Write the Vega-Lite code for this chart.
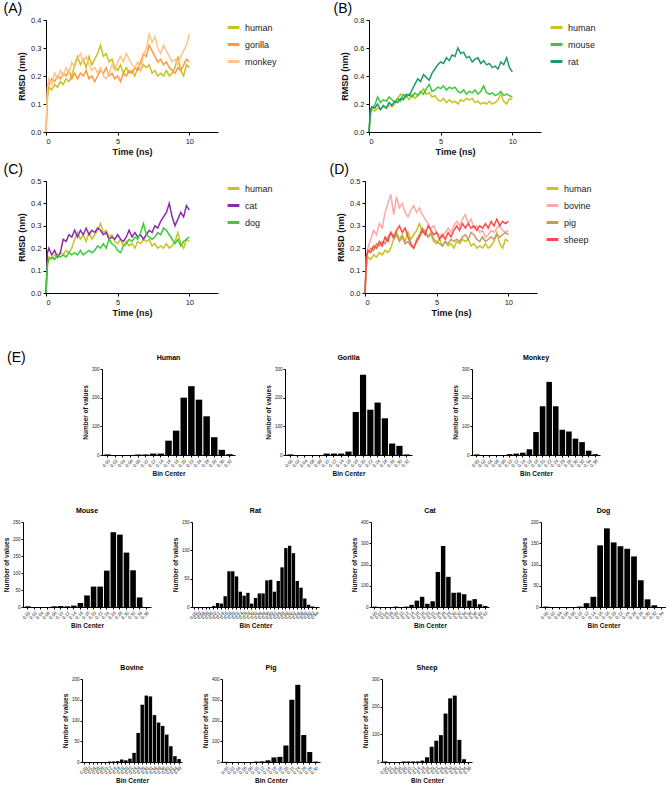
{
  "$schema": "https://vega.github.io/schema/vega-lite/v6.json",
  "padding": {"left": 2, "top": 2, "right": 0, "bottom": 0},
  "background": "white",
  "datasets": {
    "rmsd": [
      {"t":0,"human":0,"gorilla":0,"monkey":0,"mouse":0,"rat":0,"cat":0,"dog":0,"bovine":0,"pig":0,"sheep":0},
      {"t":0.1,"human":0.12,"gorilla":0.14,"monkey":0.16,"mouse":0.15,"rat":0.16,"cat":0.18,"dog":0.13,"bovine":0.16,"pig":0.15,"sheep":0.16},
      {"t":0.2,"human":0.16,"gorilla":0.17,"monkey":0.19,"mouse":0.17,"rat":0.18,"cat":0.20,"dog":0.15,"bovine":0.20,"pig":0.18,"sheep":0.19},
      {"t":0.4,"human":0.15,"gorilla":0.19,"monkey":0.17,"mouse":0.19,"rat":0.17,"cat":0.17,"dog":0.16,"bovine":0.24,"pig":0.20,"sheep":0.18},
      {"t":0.6,"human":0.17,"gorilla":0.18,"monkey":0.21,"mouse":0.25,"rat":0.20,"cat":0.19,"dog":0.15,"bovine":0.28,"pig":0.19,"sheep":0.21},
      {"t":0.8,"human":0.16,"gorilla":0.20,"monkey":0.19,"mouse":0.21,"rat":0.16,"cat":0.16,"dog":0.17,"bovine":0.26,"pig":0.22,"sheep":0.20},
      {"t":1.0,"human":0.18,"gorilla":0.19,"monkey":0.22,"mouse":0.23,"rat":0.19,"cat":0.18,"dog":0.16,"bovine":0.31,"pig":0.21,"sheep":0.23},
      {"t":1.2,"human":0.17,"gorilla":0.21,"monkey":0.20,"mouse":0.22,"rat":0.17,"cat":0.24,"dog":0.17,"bovine":0.29,"pig":0.23,"sheep":0.21},
      {"t":1.4,"human":0.19,"gorilla":0.20,"monkey":0.23,"mouse":0.25,"rat":0.21,"cat":0.23,"dog":0.16,"bovine":0.36,"pig":0.22,"sheep":0.25},
      {"t":1.6,"human":0.18,"gorilla":0.22,"monkey":0.21,"mouse":0.23,"rat":0.19,"cat":0.26,"dog":0.18,"bovine":0.40,"pig":0.25,"sheep":0.23},
      {"t":1.8,"human":0.20,"gorilla":0.19,"monkey":0.25,"mouse":0.21,"rat":0.22,"cat":0.25,"dog":0.17,"bovine":0.44,"pig":0.27,"sheep":0.27},
      {"t":2.0,"human":0.24,"gorilla":0.21,"monkey":0.23,"mouse":0.24,"rat":0.21,"cat":0.28,"dog":0.18,"bovine":0.35,"pig":0.24,"sheep":0.25},
      {"t":2.2,"human":0.27,"gorilla":0.19,"monkey":0.26,"mouse":0.22,"rat":0.24,"cat":0.25,"dog":0.17,"bovine":0.43,"pig":0.26,"sheep":0.28},
      {"t":2.4,"human":0.24,"gorilla":0.21,"monkey":0.28,"mouse":0.27,"rat":0.23,"cat":0.28,"dog":0.19,"bovine":0.38,"pig":0.23,"sheep":0.30},
      {"t":2.6,"human":0.26,"gorilla":0.20,"monkey":0.25,"mouse":0.25,"rat":0.27,"cat":0.26,"dog":0.17,"bovine":0.40,"pig":0.25,"sheep":0.27},
      {"t":2.8,"human":0.23,"gorilla":0.22,"monkey":0.27,"mouse":0.27,"rat":0.26,"cat":0.29,"dog":0.18,"bovine":0.36,"pig":0.22,"sheep":0.29},
      {"t":3.0,"human":0.27,"gorilla":0.19,"monkey":0.24,"mouse":0.25,"rat":0.30,"cat":0.26,"dog":0.19,"bovine":0.34,"pig":0.23,"sheep":0.25},
      {"t":3.2,"human":0.24,"gorilla":0.20,"monkey":0.22,"mouse":0.28,"rat":0.34,"cat":0.28,"dog":0.18,"bovine":0.37,"pig":0.21,"sheep":0.22},
      {"t":3.4,"human":0.26,"gorilla":0.18,"monkey":0.23,"mouse":0.26,"rat":0.38,"cat":0.27,"dog":0.19,"bovine":0.39,"pig":0.20,"sheep":0.20},
      {"t":3.6,"human":0.28,"gorilla":0.20,"monkey":0.21,"mouse":0.29,"rat":0.36,"cat":0.29,"dog":0.21,"bovine":0.36,"pig":0.24,"sheep":0.23},
      {"t":3.8,"human":0.31,"gorilla":0.22,"monkey":0.23,"mouse":0.27,"rat":0.41,"cat":0.28,"dog":0.20,"bovine":0.38,"pig":0.26,"sheep":0.25},
      {"t":4.0,"human":0.27,"gorilla":0.21,"monkey":0.20,"mouse":0.31,"rat":0.39,"cat":0.26,"dog":0.22,"bovine":0.35,"pig":0.29,"sheep":0.28},
      {"t":4.2,"human":0.28,"gorilla":0.23,"monkey":0.19,"mouse":0.34,"rat":0.37,"cat":0.27,"dog":0.20,"bovine":0.33,"pig":0.27,"sheep":0.26},
      {"t":4.4,"human":0.25,"gorilla":0.20,"monkey":0.21,"mouse":0.29,"rat":0.42,"cat":0.24,"dog":0.24,"bovine":0.31,"pig":0.25,"sheep":0.30},
      {"t":4.6,"human":0.26,"gorilla":0.21,"monkey":0.24,"mouse":0.30,"rat":0.45,"cat":0.25,"dog":0.22,"bovine":0.29,"pig":0.27,"sheep":0.28},
      {"t":4.8,"human":0.23,"gorilla":0.19,"monkey":0.22,"mouse":0.32,"rat":0.48,"cat":0.24,"dog":0.21,"bovine":0.30,"pig":0.24,"sheep":0.26},
      {"t":5.0,"human":0.22,"gorilla":0.20,"monkey":0.25,"mouse":0.31,"rat":0.50,"cat":0.26,"dog":0.19,"bovine":0.27,"pig":0.23,"sheep":0.27},
      {"t":5.2,"human":0.24,"gorilla":0.18,"monkey":0.27,"mouse":0.33,"rat":0.49,"cat":0.24,"dog":0.18,"bovine":0.26,"pig":0.22,"sheep":0.24},
      {"t":5.4,"human":0.21,"gorilla":0.21,"monkey":0.25,"mouse":0.30,"rat":0.53,"cat":0.23,"dog":0.21,"bovine":0.25,"pig":0.21,"sheep":0.26},
      {"t":5.6,"human":0.23,"gorilla":0.20,"monkey":0.28,"mouse":0.32,"rat":0.51,"cat":0.25,"dog":0.22,"bovine":0.27,"pig":0.23,"sheep":0.24},
      {"t":5.8,"human":0.21,"gorilla":0.22,"monkey":0.26,"mouse":0.31,"rat":0.55,"cat":0.28,"dog":0.24,"bovine":0.29,"pig":0.22,"sheep":0.27},
      {"t":6.0,"human":0.22,"gorilla":0.21,"monkey":0.24,"mouse":0.32,"rat":0.54,"cat":0.25,"dog":0.23,"bovine":0.27,"pig":0.24,"sheep":0.25},
      {"t":6.2,"human":0.20,"gorilla":0.23,"monkey":0.23,"mouse":0.29,"rat":0.60,"cat":0.27,"dog":0.25,"bovine":0.30,"pig":0.23,"sheep":0.28},
      {"t":6.4,"human":0.23,"gorilla":0.22,"monkey":0.25,"mouse":0.28,"rat":0.56,"cat":0.25,"dog":0.24,"bovine":0.32,"pig":0.24,"sheep":0.30},
      {"t":6.6,"human":0.22,"gorilla":0.25,"monkey":0.22,"mouse":0.30,"rat":0.57,"cat":0.26,"dog":0.27,"bovine":0.30,"pig":0.23,"sheep":0.28},
      {"t":6.8,"human":0.24,"gorilla":0.28,"monkey":0.27,"mouse":0.27,"rat":0.53,"cat":0.24,"dog":0.31,"bovine":0.33,"pig":0.25,"sheep":0.31},
      {"t":7.0,"human":0.23,"gorilla":0.27,"monkey":0.30,"mouse":0.29,"rat":0.54,"cat":0.26,"dog":0.26,"bovine":0.35,"pig":0.26,"sheep":0.29},
      {"t":7.2,"human":0.24,"gorilla":0.31,"monkey":0.35,"mouse":0.28,"rat":0.50,"cat":0.28,"dog":0.25,"bovine":0.31,"pig":0.24,"sheep":0.31},
      {"t":7.4,"human":0.21,"gorilla":0.29,"monkey":0.32,"mouse":0.30,"rat":0.52,"cat":0.27,"dog":0.24,"bovine":0.33,"pig":0.27,"sheep":0.29},
      {"t":7.6,"human":0.22,"gorilla":0.27,"monkey":0.34,"mouse":0.27,"rat":0.53,"cat":0.30,"dog":0.25,"bovine":0.29,"pig":0.26,"sheep":0.30},
      {"t":7.8,"human":0.20,"gorilla":0.25,"monkey":0.30,"mouse":0.29,"rat":0.49,"cat":0.29,"dog":0.27,"bovine":0.30,"pig":0.24,"sheep":0.28},
      {"t":8.0,"human":0.21,"gorilla":0.26,"monkey":0.28,"mouse":0.33,"rat":0.51,"cat":0.32,"dog":0.26,"bovine":0.27,"pig":0.23,"sheep":0.30},
      {"t":8.2,"human":0.20,"gorilla":0.24,"monkey":0.31,"mouse":0.28,"rat":0.48,"cat":0.34,"dog":0.29,"bovine":0.28,"pig":0.25,"sheep":0.29},
      {"t":8.4,"human":0.22,"gorilla":0.25,"monkey":0.29,"mouse":0.27,"rat":0.49,"cat":0.36,"dog":0.28,"bovine":0.25,"pig":0.23,"sheep":0.31},
      {"t":8.6,"human":0.20,"gorilla":0.23,"monkey":0.27,"mouse":0.28,"rat":0.46,"cat":0.40,"dog":0.26,"bovine":0.26,"pig":0.24,"sheep":0.29},
      {"t":8.8,"human":0.21,"gorilla":0.22,"monkey":0.25,"mouse":0.26,"rat":0.47,"cat":0.34,"dog":0.24,"bovine":0.28,"pig":0.25,"sheep":0.32},
      {"t":9.0,"human":0.23,"gorilla":0.21,"monkey":0.26,"mouse":0.27,"rat":0.45,"cat":0.30,"dog":0.22,"bovine":0.27,"pig":0.24,"sheep":0.30},
      {"t":9.2,"human":0.27,"gorilla":0.23,"monkey":0.24,"mouse":0.29,"rat":0.50,"cat":0.33,"dog":0.24,"bovine":0.29,"pig":0.26,"sheep":0.33},
      {"t":9.4,"human":0.22,"gorilla":0.22,"monkey":0.27,"mouse":0.26,"rat":0.48,"cat":0.36,"dog":0.21,"bovine":0.30,"pig":0.25,"sheep":0.30},
      {"t":9.6,"human":0.20,"gorilla":0.24,"monkey":0.29,"mouse":0.27,"rat":0.53,"cat":0.34,"dog":0.23,"bovine":0.28,"pig":0.26,"sheep":0.32},
      {"t":9.8,"human":0.24,"gorilla":0.26,"monkey":0.31,"mouse":0.26,"rat":0.46,"cat":0.39,"dog":0.24,"bovine":0.27,"pig":0.27,"sheep":0.31},
      {"t":10.0,"human":0.23,"gorilla":0.25,"monkey":0.35,"mouse":0.25,"rat":0.43,"cat":0.37,"dog":0.25,"bovine":0.28,"pig":0.26,"sheep":0.32}
    ],
    "hist": [
      {"s":"Human","b":"0.00","n":2},{"s":"Human","b":"0.02","n":0},{"s":"Human","b":"0.04","n":0},{"s":"Human","b":"0.06","n":0},{"s":"Human","b":"0.08","n":2},{"s":"Human","b":"0.10","n":2},{"s":"Human","b":"0.12","n":5},{"s":"Human","b":"0.14","n":5},{"s":"Human","b":"0.16","n":50},{"s":"Human","b":"0.18","n":85},{"s":"Human","b":"0.20","n":200},{"s":"Human","b":"0.22","n":240},{"s":"Human","b":"0.24","n":193},{"s":"Human","b":"0.26","n":135},{"s":"Human","b":"0.28","n":62},{"s":"Human","b":"0.30","n":18},{"s":"Human","b":"0.32","n":3},
      {"s":"Gorilla","b":"0.00","n":2},{"s":"Gorilla","b":"0.02","n":0},{"s":"Gorilla","b":"0.04","n":0},{"s":"Gorilla","b":"0.06","n":0},{"s":"Gorilla","b":"0.08","n":0},{"s":"Gorilla","b":"0.10","n":5},{"s":"Gorilla","b":"0.12","n":5},{"s":"Gorilla","b":"0.14","n":5},{"s":"Gorilla","b":"0.16","n":12},{"s":"Gorilla","b":"0.18","n":150},{"s":"Gorilla","b":"0.20","n":280},{"s":"Gorilla","b":"0.22","n":158},{"s":"Gorilla","b":"0.24","n":183},{"s":"Gorilla","b":"0.26","n":128},{"s":"Gorilla","b":"0.28","n":40},{"s":"Gorilla","b":"0.30","n":32},{"s":"Gorilla","b":"0.32","n":2},
      {"s":"Monkey","b":"0.00","n":2},{"s":"Monkey","b":"0.02","n":0},{"s":"Monkey","b":"0.04","n":0},{"s":"Monkey","b":"0.06","n":0},{"s":"Monkey","b":"0.08","n":0},{"s":"Monkey","b":"0.10","n":3},{"s":"Monkey","b":"0.12","n":5},{"s":"Monkey","b":"0.14","n":8},{"s":"Monkey","b":"0.16","n":20},{"s":"Monkey","b":"0.18","n":80},{"s":"Monkey","b":"0.20","n":170},{"s":"Monkey","b":"0.22","n":255},{"s":"Monkey","b":"0.24","n":170},{"s":"Monkey","b":"0.26","n":88},{"s":"Monkey","b":"0.28","n":82},{"s":"Monkey","b":"0.30","n":57},{"s":"Monkey","b":"0.32","n":45},{"s":"Monkey","b":"0.34","n":15},{"s":"Monkey","b":"0.36","n":3},
      {"s":"Mouse","b":"0.00","n":2},{"s":"Mouse","b":"0.02","n":0},{"s":"Mouse","b":"0.04","n":0},{"s":"Mouse","b":"0.06","n":0},{"s":"Mouse","b":"0.08","n":2},{"s":"Mouse","b":"0.10","n":3},{"s":"Mouse","b":"0.12","n":2},{"s":"Mouse","b":"0.14","n":4},{"s":"Mouse","b":"0.16","n":12},{"s":"Mouse","b":"0.18","n":34},{"s":"Mouse","b":"0.20","n":60},{"s":"Mouse","b":"0.22","n":60},{"s":"Mouse","b":"0.24","n":107},{"s":"Mouse","b":"0.26","n":220},{"s":"Mouse","b":"0.28","n":213},{"s":"Mouse","b":"0.30","n":160},{"s":"Mouse","b":"0.32","n":108},{"s":"Mouse","b":"0.34","n":28},{"s":"Mouse","b":"0.36","n":0},
      {"s":"Rat","b":"0.00","n":0},{"s":"Rat","b":"0.02","n":0},{"s":"Rat","b":"0.04","n":0},{"s":"Rat","b":"0.06","n":0},{"s":"Rat","b":"0.08","n":0},{"s":"Rat","b":"0.10","n":2},{"s":"Rat","b":"0.12","n":7},{"s":"Rat","b":"0.14","n":6},{"s":"Rat","b":"0.16","n":19},{"s":"Rat","b":"0.18","n":63},{"s":"Rat","b":"0.20","n":63},{"s":"Rat","b":"0.22","n":54},{"s":"Rat","b":"0.24","n":27},{"s":"Rat","b":"0.26","n":20},{"s":"Rat","b":"0.28","n":25},{"s":"Rat","b":"0.30","n":6},{"s":"Rat","b":"0.32","n":16},{"s":"Rat","b":"0.34","n":24},{"s":"Rat","b":"0.36","n":24},{"s":"Rat","b":"0.38","n":47},{"s":"Rat","b":"0.40","n":48},{"s":"Rat","b":"0.42","n":27},{"s":"Rat","b":"0.44","n":46},{"s":"Rat","b":"0.46","n":70},{"s":"Rat","b":"0.48","n":104},{"s":"Rat","b":"0.50","n":108},{"s":"Rat","b":"0.52","n":95},{"s":"Rat","b":"0.54","n":46},{"s":"Rat","b":"0.56","n":34},{"s":"Rat","b":"0.58","n":15},{"s":"Rat","b":"0.60","n":4},{"s":"Rat","b":"0.62","n":1},{"s":"Rat","b":"0.64","n":0},
      {"s":"Cat","b":"0.00","n":2},{"s":"Cat","b":"0.02","n":0},{"s":"Cat","b":"0.04","n":0},{"s":"Cat","b":"0.06","n":0},{"s":"Cat","b":"0.08","n":2},{"s":"Cat","b":"0.10","n":0},{"s":"Cat","b":"0.12","n":2},{"s":"Cat","b":"0.14","n":10},{"s":"Cat","b":"0.16","n":30},{"s":"Cat","b":"0.18","n":48},{"s":"Cat","b":"0.20","n":15},{"s":"Cat","b":"0.22","n":27},{"s":"Cat","b":"0.24","n":165},{"s":"Cat","b":"0.26","n":287},{"s":"Cat","b":"0.28","n":142},{"s":"Cat","b":"0.30","n":67},{"s":"Cat","b":"0.32","n":68},{"s":"Cat","b":"0.34","n":60},{"s":"Cat","b":"0.36","n":30},{"s":"Cat","b":"0.38","n":37},{"s":"Cat","b":"0.40","n":13},{"s":"Cat","b":"0.42","n":5},
      {"s":"Dog","b":"0.00","n":1},{"s":"Dog","b":"0.02","n":0},{"s":"Dog","b":"0.04","n":0},{"s":"Dog","b":"0.06","n":0},{"s":"Dog","b":"0.08","n":0},{"s":"Dog","b":"0.10","n":1},{"s":"Dog","b":"0.12","n":9},{"s":"Dog","b":"0.14","n":24},{"s":"Dog","b":"0.16","n":145},{"s":"Dog","b":"0.18","n":185},{"s":"Dog","b":"0.20","n":152},{"s":"Dog","b":"0.22","n":143},{"s":"Dog","b":"0.24","n":137},{"s":"Dog","b":"0.26","n":119},{"s":"Dog","b":"0.28","n":63},{"s":"Dog","b":"0.30","n":18},{"s":"Dog","b":"0.32","n":4},{"s":"Dog","b":"0.34","n":0},
      {"s":"Bovine","b":"0.00","n":0},{"s":"Bovine","b":"0.02","n":0},{"s":"Bovine","b":"0.04","n":0},{"s":"Bovine","b":"0.06","n":0},{"s":"Bovine","b":"0.08","n":0},{"s":"Bovine","b":"0.10","n":0},{"s":"Bovine","b":"0.12","n":1},{"s":"Bovine","b":"0.14","n":1},{"s":"Bovine","b":"0.16","n":2},{"s":"Bovine","b":"0.18","n":6},{"s":"Bovine","b":"0.20","n":4},{"s":"Bovine","b":"0.22","n":8},{"s":"Bovine","b":"0.24","n":22},{"s":"Bovine","b":"0.26","n":70},{"s":"Bovine","b":"0.28","n":138},{"s":"Bovine","b":"0.30","n":160},{"s":"Bovine","b":"0.32","n":158},{"s":"Bovine","b":"0.34","n":113},{"s":"Bovine","b":"0.36","n":95},{"s":"Bovine","b":"0.38","n":87},{"s":"Bovine","b":"0.40","n":66},{"s":"Bovine","b":"0.42","n":38},{"s":"Bovine","b":"0.44","n":14},{"s":"Bovine","b":"0.46","n":7},
      {"s":"Pig","b":"0.00","n":1},{"s":"Pig","b":"0.02","n":0},{"s":"Pig","b":"0.04","n":0},{"s":"Pig","b":"0.06","n":0},{"s":"Pig","b":"0.08","n":0},{"s":"Pig","b":"0.10","n":2},{"s":"Pig","b":"0.12","n":3},{"s":"Pig","b":"0.14","n":8},{"s":"Pig","b":"0.16","n":22},{"s":"Pig","b":"0.18","n":25},{"s":"Pig","b":"0.20","n":80},{"s":"Pig","b":"0.22","n":300},{"s":"Pig","b":"0.24","n":372},{"s":"Pig","b":"0.26","n":130},{"s":"Pig","b":"0.28","n":48},{"s":"Pig","b":"0.30","n":2},
      {"s":"Sheep","b":"0.00","n":2},{"s":"Sheep","b":"0.02","n":0},{"s":"Sheep","b":"0.04","n":0},{"s":"Sheep","b":"0.06","n":0},{"s":"Sheep","b":"0.08","n":2},{"s":"Sheep","b":"0.10","n":2},{"s":"Sheep","b":"0.12","n":2},{"s":"Sheep","b":"0.14","n":2},{"s":"Sheep","b":"0.16","n":5},{"s":"Sheep","b":"0.18","n":17},{"s":"Sheep","b":"0.20","n":55},{"s":"Sheep","b":"0.22","n":77},{"s":"Sheep","b":"0.24","n":97},{"s":"Sheep","b":"0.26","n":175},{"s":"Sheep","b":"0.28","n":230},{"s":"Sheep","b":"0.30","n":240},{"s":"Sheep","b":"0.32","n":80},{"s":"Sheep","b":"0.34","n":10},{"s":"Sheep","b":"0.36","n":0}
    ]
  },
  "vconcat": [
    {
      "vconcat": [
        {
          "hconcat": [
            {"width": 1, "height": 1, "data": {"values": []}, "mark": "rect", "view": {"fill": "transparent", "stroke": null}},
            {
              "hconcat": [
                {
                  "title": {"text": "(A)", "anchor": "start", "frame": "bounds", "fontSize": 14, "fontWeight": "normal", "dx": -14, "offset": 0},
                  "width": 172, "height": 112,
                  "data": {"name": "rmsd"},
                  "transform": [{"fold": ["human", "gorilla", "monkey"], "as": ["species", "rmsd"]}],
                  "mark": {"type": "line", "strokeWidth": 1.5},
                  "encoding": {
                    "x": {"field": "t", "type": "quantitative", "scale": {"domain": [0, 12], "nice": false}, "axis": {"values": [0, 5, 10], "title": "Time (ns)", "labelFontSize": 7.5, "titleFontSize": 9, "tickSize": 3, "labelPadding": 2, "titlePadding": 3}},
                    "y": {"field": "rmsd", "type": "quantitative", "scale": {"domain": [0, 0.4], "nice": false}, "axis": {"values": [0, 0.1, 0.2, 0.3, 0.4], "format": ".1f", "title": "RMSD (nm)", "labelFontSize": 7.5, "titleFontSize": 9, "tickSize": 3, "labelPadding": 2, "titlePadding": 4}},
                    "color": {"field": "species", "type": "nominal", "scale": {"domain": ["human", "gorilla", "monkey"], "range": ["#c8c31e", "#ff9a3c", "#ffc48a"]}}
                  }
                },
                {
                  "title": {"text": "(B)", "anchor": "start", "frame": "bounds", "fontSize": 14, "fontWeight": "normal", "dx": -7, "offset": 0},
                  "width": 172, "height": 112,
                  "data": {"name": "rmsd"},
                  "transform": [{"fold": ["human", "mouse", "rat"], "as": ["species", "rmsd"]}],
                  "mark": {"type": "line", "strokeWidth": 1.5},
                  "encoding": {
                    "x": {"field": "t", "type": "quantitative", "scale": {"domain": [0, 12], "nice": false}, "axis": {"values": [0, 5, 10], "title": "Time (ns)", "labelFontSize": 7.5, "titleFontSize": 9, "tickSize": 3, "labelPadding": 2, "titlePadding": 3}},
                    "y": {"field": "rmsd", "type": "quantitative", "scale": {"domain": [0, 0.8], "nice": false}, "axis": {"values": [0, 0.2, 0.4, 0.6, 0.8], "format": ".1f", "title": "RMSD (nm)", "labelFontSize": 7.5, "titleFontSize": 9, "tickSize": 3, "labelPadding": 2, "titlePadding": 4}},
                    "color": {"field": "species", "type": "nominal", "scale": {"domain": ["human", "mouse", "rat"], "range": ["#c8c31e", "#3cc83c", "#1e9870"]}}
                  }
                }
              ],
              "spacing": 56,
              "resolve": {"scale": {"color": "independent"}, "legend": {"color": "independent"}}
            }
          ],
          "spacing": 0,
          "resolve": {"scale": {"color": "independent"}, "legend": {"color": "independent"}}
        },
        {
          "hconcat": [
            {"width": 1, "height": 1, "data": {"values": []}, "mark": "rect", "view": {"fill": "transparent", "stroke": null}},
            {
              "hconcat": [
                {
                  "title": {"text": "(C)", "anchor": "start", "frame": "bounds", "fontSize": 14, "fontWeight": "normal", "dx": -14, "offset": 0},
                  "width": 172, "height": 112,
                  "data": {"name": "rmsd"},
                  "transform": [{"fold": ["human", "cat", "dog"], "as": ["species", "rmsd"]}],
                  "mark": {"type": "line", "strokeWidth": 1.5},
                  "encoding": {
                    "x": {"field": "t", "type": "quantitative", "scale": {"domain": [0, 12], "nice": false}, "axis": {"values": [0, 5, 10], "title": "Time (ns)", "labelFontSize": 7.5, "titleFontSize": 9, "tickSize": 3, "labelPadding": 2, "titlePadding": 3}},
                    "y": {"field": "rmsd", "type": "quantitative", "scale": {"domain": [0, 0.5], "nice": false}, "axis": {"values": [0, 0.1, 0.2, 0.3, 0.4, 0.5], "format": ".1f", "title": "RMSD (nm)", "labelFontSize": 7.5, "titleFontSize": 9, "tickSize": 3, "labelPadding": 2, "titlePadding": 4}},
                    "color": {"field": "species", "type": "nominal", "scale": {"domain": ["human", "cat", "dog"], "range": ["#c8c31e", "#8b2ca8", "#3ccc3c"]}}
                  }
                },
                {
                  "title": {"text": "(D)", "anchor": "start", "frame": "bounds", "fontSize": 14, "fontWeight": "normal", "dx": -7, "offset": 0},
                  "width": 172, "height": 112,
                  "data": {"name": "rmsd"},
                  "transform": [{"fold": ["human", "bovine", "pig", "sheep"], "as": ["species", "rmsd"]}],
                  "mark": {"type": "line", "strokeWidth": 1.5},
                  "encoding": {
                    "x": {"field": "t", "type": "quantitative", "scale": {"domain": [0, 12], "nice": false}, "axis": {"values": [0, 5, 10], "title": "Time (ns)", "labelFontSize": 7.5, "titleFontSize": 9, "tickSize": 3, "labelPadding": 2, "titlePadding": 3}},
                    "y": {"field": "rmsd", "type": "quantitative", "scale": {"domain": [0, 0.5], "nice": false}, "axis": {"values": [0, 0.1, 0.2, 0.3, 0.4, 0.5], "format": ".1f", "title": "RMSD (nm)", "labelFontSize": 7.5, "titleFontSize": 9, "tickSize": 3, "labelPadding": 2, "titlePadding": 4}},
                    "color": {"field": "species", "type": "nominal", "scale": {"domain": ["human", "bovine", "pig", "sheep"], "range": ["#c8c31e", "#ffa8a8", "#c89a62", "#ff4848"]}}
                  }
                }
              ],
              "spacing": 56,
              "resolve": {"scale": {"color": "independent"}, "legend": {"color": "independent"}}
            }
          ],
          "spacing": 0,
          "resolve": {"scale": {"color": "independent"}, "legend": {"color": "independent"}}
        }
      ],
      "spacing": 6,
      "resolve": {"scale": {"color": "independent"}, "legend": {"color": "independent"}}
    },
    {
      "vconcat": [
        {
          "hconcat": [
            {"title": {"text": "(E)", "anchor": "start", "frame": "bounds", "fontSize": 14, "fontWeight": "normal", "offset": 4, "dx": 5}, "width": 80, "height": 1, "data": {"values": []}, "mark": "rect", "view": {"fill": "transparent", "stroke": null}},
            {
              "hconcat": [
                {"title": "Human", "width": 133, "height": 86, "data": {"name": "hist"}, "transform": [{"filter": "datum.s === 'Human'"}], "mark": {"type": "bar", "color": "#000"},
                 "encoding": {"x": {"field": "b", "type": "ordinal", "title": "Bin Center", "scale": {"paddingInner": 0.15, "paddingOuter": 0.3}, "axis": {"labelAngle": -45, "bandPosition": 0.5}},
                              "y": {"field": "n", "type": "quantitative", "title": "Number of values", "scale": {"domain": [0, 300], "nice": false}, "axis": {"values": [0, 100, 200, 300]}}}},
                {
                  "hconcat": [
                    {"title": "Gorilla", "width": 127, "height": 86, "data": {"name": "hist"}, "transform": [{"filter": "datum.s === 'Gorilla'"}], "mark": {"type": "bar", "color": "#000"},
                     "encoding": {"x": {"field": "b", "type": "ordinal", "title": "Bin Center", "scale": {"paddingInner": 0.15, "paddingOuter": 0.3}, "axis": {"labelAngle": -45, "bandPosition": 0.5}},
                                  "y": {"field": "n", "type": "quantitative", "title": "Number of values", "scale": {"domain": [0, 300], "nice": false}, "axis": {"values": [0, 100, 200, 300]}}}},
                    {"title": "Monkey", "width": 128, "height": 86, "data": {"name": "hist"}, "transform": [{"filter": "datum.s === 'Monkey'"}], "mark": {"type": "bar", "color": "#000"},
                     "encoding": {"x": {"field": "b", "type": "ordinal", "title": "Bin Center", "scale": {"paddingInner": 0.15, "paddingOuter": 0.3}, "axis": {"labelAngle": -45, "bandPosition": 0.5}},
                                  "y": {"field": "n", "type": "quantitative", "title": "Number of values", "scale": {"domain": [0, 300], "nice": false}, "axis": {"values": [0, 100, 200, 300]}}}}
                  ],
                  "spacing": 40
                }
              ],
              "spacing": 30
            }
          ],
          "spacing": 0
        },
        {
          "vconcat": [
            {
              "hconcat": [
                {"width": 1, "height": 1, "data": {"values": []}, "mark": "rect", "view": {"fill": "transparent", "stroke": null}},
                {
                  "hconcat": [
                    {
                      "hconcat": [
                        {"title": "Mouse", "width": 128, "height": 85, "data": {"name": "hist"}, "transform": [{"filter": "datum.s === 'Mouse'"}], "mark": {"type": "bar", "color": "#000"},
                         "encoding": {"x": {"field": "b", "type": "ordinal", "title": "Bin Center", "scale": {"paddingInner": 0.15, "paddingOuter": 0.3}, "axis": {"labelAngle": -45, "bandPosition": 0.5}},
                                      "y": {"field": "n", "type": "quantitative", "title": "Number of values", "scale": {"domain": [0, 250], "nice": false}, "axis": {"values": [0, 50, 100, 150, 200, 250]}}}},
                        {"title": "Rat", "width": 127, "height": 85, "data": {"name": "hist"}, "transform": [{"filter": "datum.s === 'Rat'"}], "mark": {"type": "bar", "color": "#000"},
                         "encoding": {"x": {"field": "b", "type": "ordinal", "title": "Bin Center", "scale": {"paddingInner": 0.12, "paddingOuter": 0.3}, "axis": {"labelAngle": -45, "bandPosition": 0.5}},
                                      "y": {"field": "n", "type": "quantitative", "title": "Number of values", "scale": {"domain": [0, 150], "nice": false}, "axis": {"values": [0, 50, 100, 150]}}}}
                      ],
                      "spacing": 21
                    },
                    {"title": "Cat", "width": 118, "height": 85, "data": {"name": "hist"}, "transform": [{"filter": "datum.s === 'Cat'"}], "mark": {"type": "bar", "color": "#000"},
                     "encoding": {"x": {"field": "b", "type": "ordinal", "title": "Bin Center", "scale": {"paddingInner": 0.15, "paddingOuter": 0.3}, "axis": {"labelAngle": -45, "bandPosition": 0.5}},
                                  "y": {"field": "n", "type": "quantitative", "title": "Number of values", "scale": {"domain": [0, 400], "nice": false}, "axis": {"values": [0, 100, 200, 300, 400]}}}},
                    {"title": "Dog", "width": 125, "height": 85, "data": {"name": "hist"}, "transform": [{"filter": "datum.s === 'Dog'"}], "mark": {"type": "bar", "color": "#000"},
                     "encoding": {"x": {"field": "b", "type": "ordinal", "title": "Bin Center", "scale": {"paddingInner": 0.15, "paddingOuter": 0.3}, "axis": {"labelAngle": -45, "bandPosition": 0.5}},
                                  "y": {"field": "n", "type": "quantitative", "title": "Number of values", "scale": {"domain": [0, 200], "nice": false}, "axis": {"values": [0, 50, 100, 150, 200]}}}}
                  ],
                  "spacing": 32
                }
              ],
              "spacing": 0
            },
            {
              "hconcat": [
                {"width": 60, "height": 1, "data": {"values": []}, "mark": "rect", "view": {"fill": "transparent", "stroke": null}},
                {
                  "hconcat": [
                    {
                      "hconcat": [
                        {"title": "Bovine", "width": 100, "height": 83, "data": {"name": "hist"}, "transform": [{"filter": "datum.s === 'Bovine'"}], "mark": {"type": "bar", "color": "#000"},
                         "encoding": {"x": {"field": "b", "type": "ordinal", "title": "Bin Center", "scale": {"paddingInner": 0.15, "paddingOuter": 0.3}, "axis": {"labelAngle": -45, "bandPosition": 0.5}},
                                      "y": {"field": "n", "type": "quantitative", "title": "Number of values", "scale": {"domain": [0, 200], "nice": false}, "axis": {"values": [0, 50, 100, 150, 200]}}}},
                        {"title": "Pig", "width": 98, "height": 83, "data": {"name": "hist"}, "transform": [{"filter": "datum.s === 'Pig'"}], "mark": {"type": "bar", "color": "#000"},
                         "encoding": {"x": {"field": "b", "type": "ordinal", "title": "Bin Center", "scale": {"paddingInner": 0.15, "paddingOuter": 0.3}, "axis": {"labelAngle": -45, "bandPosition": 0.5}},
                                      "y": {"field": "n", "type": "quantitative", "title": "Number of values", "scale": {"domain": [0, 400], "nice": false}, "axis": {"values": [0, 100, 200, 300, 400]}}}}
                      ],
                      "spacing": 20
                    },
                    {"title": "Sheep", "width": 90, "height": 83, "data": {"name": "hist"}, "transform": [{"filter": "datum.s === 'Sheep'"}], "mark": {"type": "bar", "color": "#000"},
                     "encoding": {"x": {"field": "b", "type": "ordinal", "title": "Bin Center", "scale": {"paddingInner": 0.15, "paddingOuter": 0.3}, "axis": {"labelAngle": -45, "bandPosition": 0.5}},
                                  "y": {"field": "n", "type": "quantitative", "title": "Number of values", "scale": {"domain": [0, 300], "nice": false}, "axis": {"values": [0, 100, 200, 300]}}}}
                  ],
                  "spacing": 42
                }
              ],
              "spacing": 0
            }
          ],
          "spacing": 35
        }
      ],
      "spacing": 30
    }
  ],
  "spacing": 33,
  "resolve": {"scale": {"color": "independent"}, "legend": {"color": "independent"}},
  "config": {
    "font": "Liberation Sans",
    "view": {"stroke": null},
    "axis": {"grid": false, "domainColor": "#000", "tickColor": "#000", "labelColor": "#222", "titleColor": "#111", "labelFontSize": 4.5, "titleFontSize": 6.5, "titleFontWeight": "bold", "tickSize": 2, "labelPadding": 1, "titlePadding": 3, "domainWidth": 1, "tickWidth": 1},
    "title": {"fontSize": 7, "fontWeight": "bold", "offset": 5, "color": "#000"},
    "legend": {"title": null, "symbolType": "stroke", "symbolStrokeWidth": 3, "symbolSize": 140, "labelFontSize": 9, "labelColor": "#222", "rowPadding": 3, "offset": 8, "padding": 0, "labelOffset": 4}
  }
}
